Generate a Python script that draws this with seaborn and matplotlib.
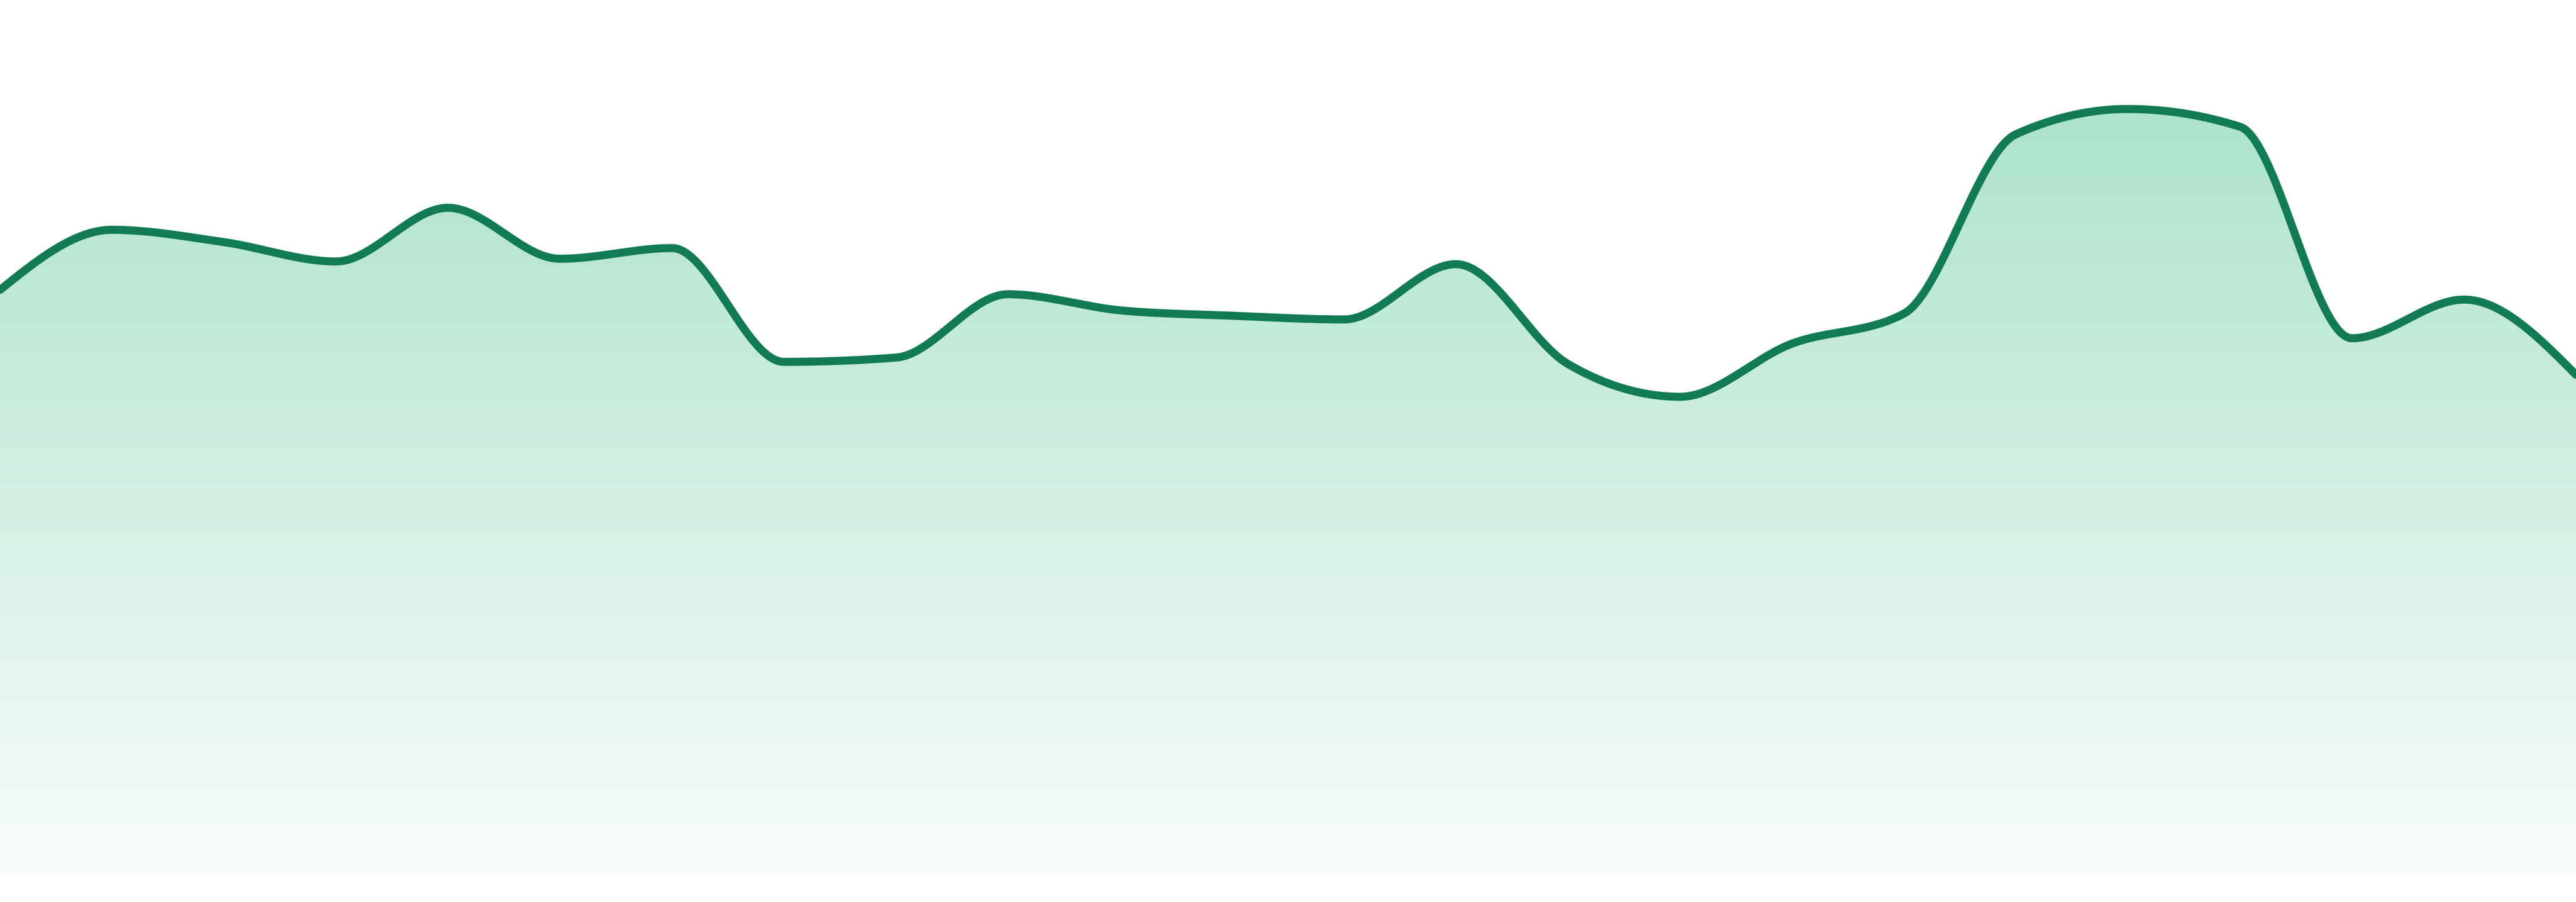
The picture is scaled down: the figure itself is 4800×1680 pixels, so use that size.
import numpy as np
import pandas as pd
import matplotlib.pyplot as plt
import seaborn as sns
from matplotlib.colors import LinearSegmentedColormap

# Sparkline values (0 = bottom edge of the filled area)
points = list(range(24))
values = [109.2, 120.4, 118.1, 114.5, 124.5, 115.0, 117.0, 95.8, 96.6, 108.4,
          105.4, 104.4, 103.7, 114.0, 95.4, 89.3, 99.2, 104.8, 138.2, 142.9,
          139.6, 100.2, 107.4, 93.4]

LINE_COLOR = "#127b53"
FILL_TOP = "#ace3cb"
FILL_BOTTOM = "#f8fcfa"


def monotone_x(x, y, steps=80):
    """Monotone cubic interpolation (same tangents as d3.curveMonotoneX)."""
    x = np.asarray(x, dtype=float)
    y = np.asarray(y, dtype=float)
    h = np.diff(x)
    s = np.diff(y) / h
    m = np.zeros(len(x))
    for i in range(1, len(x) - 1):
        h0, h1 = h[i - 1], h[i]
        s0, s1 = s[i - 1], s[i]
        p = (s0 * h1 + s1 * h0) / (h0 + h1)
        m[i] = (np.sign(s0) + np.sign(s1)) * min(abs(s0), abs(s1), 0.5 * abs(p))
    m[0] = (3 * s[0] - m[1]) / 2
    m[-1] = (3 * s[-1] - m[-2]) / 2

    xs, ys = [], []
    for i in range(len(x) - 1):
        t = np.linspace(0, 1, steps, endpoint=(i == len(x) - 2))
        h00 = 2 * t**3 - 3 * t**2 + 1
        h10 = t**3 - 2 * t**2 + t
        h01 = -2 * t**3 + 3 * t**2
        h11 = t**3 - t**2
        xs.append(x[i] + t * h[i])
        ys.append(h00 * y[i] + h10 * h[i] * m[i] + h01 * y[i + 1] + h11 * h[i] * m[i + 1])
    return np.concatenate(xs), np.concatenate(ys)


sns.set_style("white")

curve_x, curve_y = monotone_x(points, values)
curve = pd.DataFrame({"x": curve_x, "y": curve_y})

fig = plt.figure(figsize=(48, 16.8), dpi=100)
ax = fig.add_axes([0, 0, 1, 1])
ax.set_xlim(points[0], points[-1])
ax.set_ylim(-4.8, 163.2)

# Area under the curve with a vertical gradient
area = ax.fill_between(curve["x"], curve["y"], 0, facecolor="none", edgecolor="none")
cmap = LinearSegmentedColormap.from_list("fade", [FILL_BOTTOM, FILL_TOP])
grad = np.linspace(0, 1, 256).reshape(-1, 1)
img = ax.imshow(grad, extent=[points[0], points[-1], 0, max(values) + 0.8],
                origin="lower", aspect="auto", cmap=cmap, zorder=1)
img.set_clip_path(area.get_paths()[0], transform=ax.transData)

sns.lineplot(data=curve, x="x", y="y", ax=ax, color=LINE_COLOR, linewidth=10.8,
             sort=False, estimator=None, solid_joinstyle="round", zorder=3)

ax.axis("off")
fig.savefig("out.png", dpi=100, facecolor="white")
plt.close(fig)
